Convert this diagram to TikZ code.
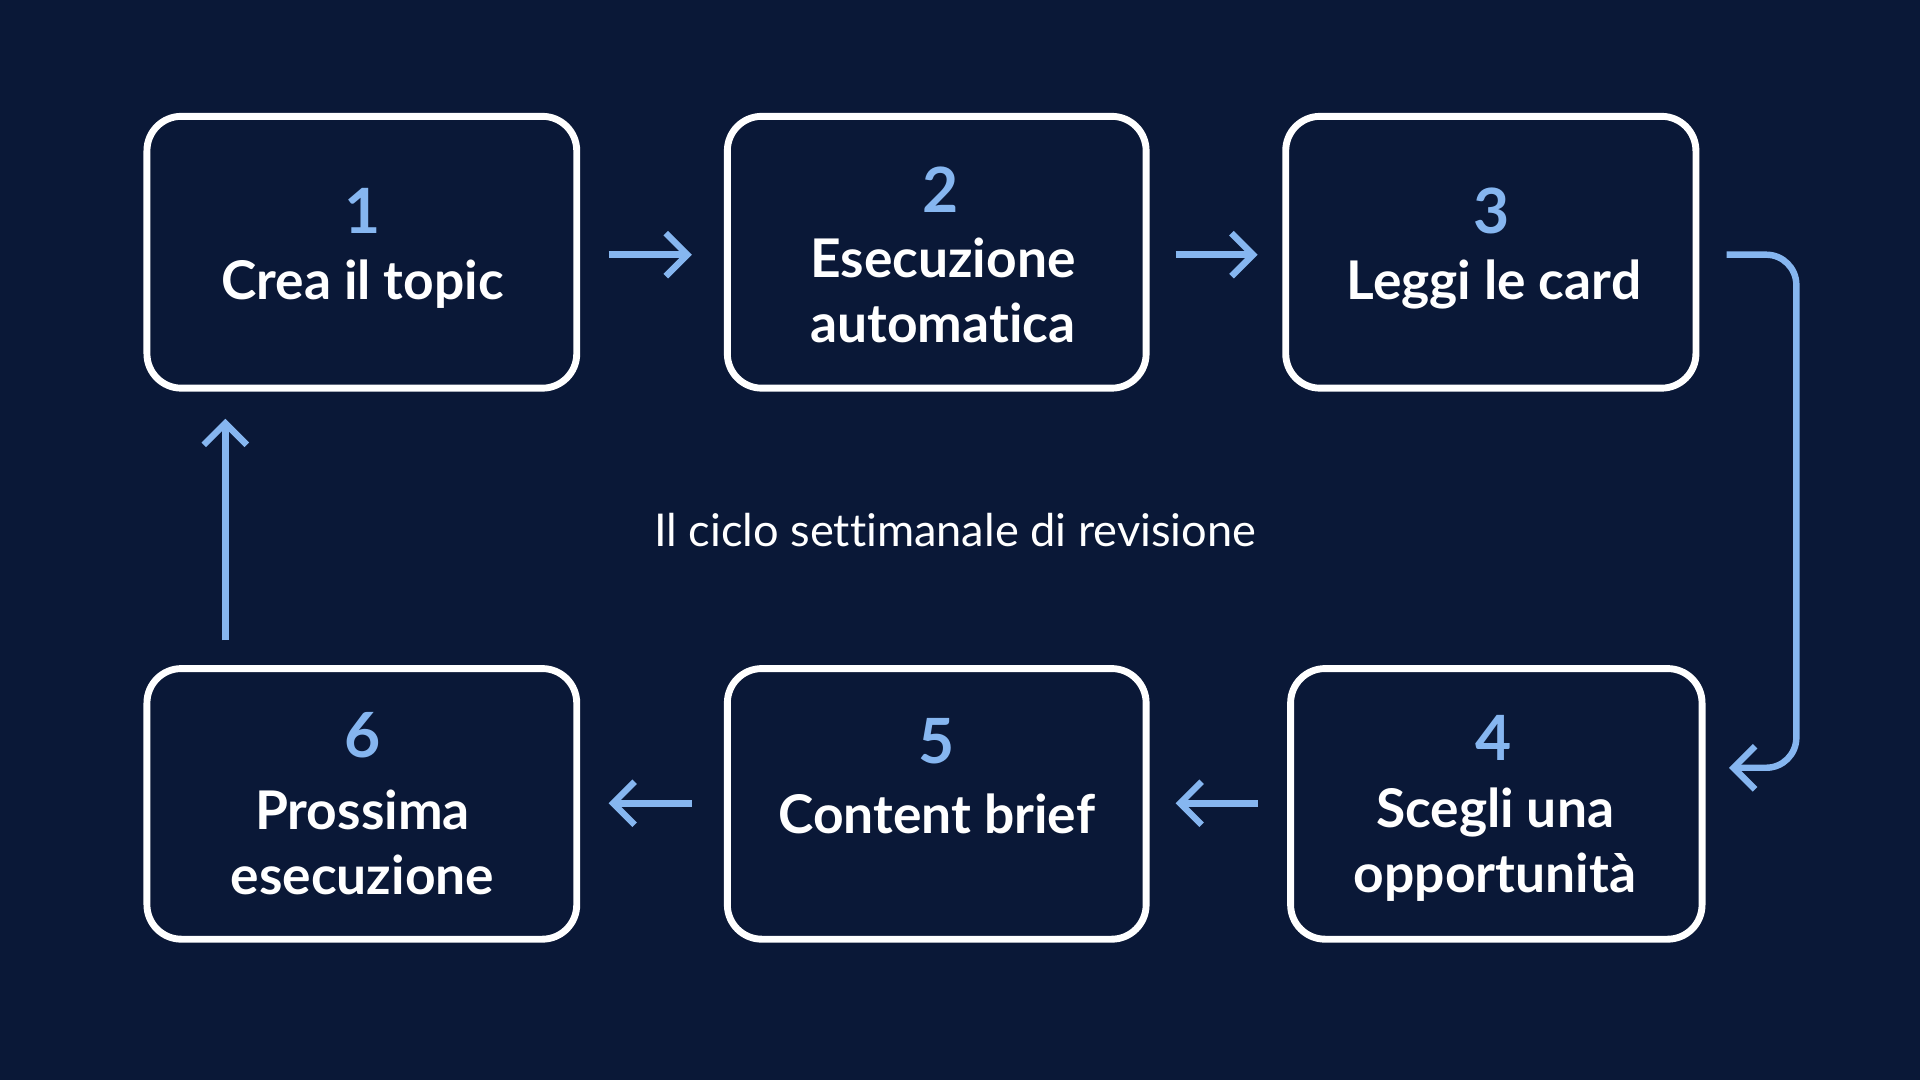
\documentclass[tikz,border=0pt]{standalone}
\usepackage{fontspec}
\setmainfont{Lato}[Ligatures=NoCommon]
\usetikzlibrary{arrows.meta}
\definecolor{bg}{HTML}{0A1837}
\definecolor{acc}{HTML}{86B6F0}
\begin{document}
\begin{tikzpicture}[x=0.02cm,y=-0.02cm,
 box/.style={draw=white,line width=3.2pt,rounded corners=16pt},
 num/.style={text=acc,font=\fontsize{29}{30}\selectfont\bfseries,anchor=center},
 lbl/.style={text=white,font=\fontsize{24.8}{30}\selectfont\bfseries,align=center,anchor=center},
 arr/.style={draw=acc,line width=3pt,-{Straight Barb[length=10pt,width=20pt,line width=3pt]}}]
\fill[bg] (0,0) rectangle (1568,882);
\useasboundingbox (0,0) rectangle (1568,882);
\draw[box] (120,95) rectangle (471,317);
\draw[box] (594,95) rectangle (936,317);
\draw[box] (1050,95) rectangle (1385,317);
\draw[box] (120,546) rectangle (471,767);
\draw[box] (594,546) rectangle (936,767);
\draw[box] (1054,546) rectangle (1390,767);
\node[num] (n1) at (296,172) {1};
\node[lbl] (t1) at (296,232) {Crea il topic};
\node[num] (n2) at (768,155) {2};
\node[lbl] (t2) at (770,237) {Esecuzione\\automatica};
\node[num] (n3) at (1218,172) {3};
\node[lbl] (t3) at (1220,232) {Leggi le card};
\node[num] (n4) at (1220,603) {4};
\node[lbl] (t4) at (1221,690) {Scegli una\\opportunità};
\node[num] (n5) at (765,605) {5};
\node[lbl] (t5) at (765,665) {Content brief};
\node[num] (n6) at (296,600) {6};
\node[lbl] (t6) at (296,688) {Prossima\\esecuzione};
\node[text=white,font=\fontsize{21}{24}\selectfont] (cap) at (780,433) {Il ciclo settimanale di revisione};
\coordinate (a1) at (497,208); \coordinate (b1) at (565,208);
\coordinate (a2) at (960,208); \coordinate (b2) at (1027,208);
\coordinate (a3) at (1410,208); \coordinate (c3) at (1467,208); \coordinate (d3) at (1467,627); \coordinate (b3) at (1412,627);
\coordinate (a4) at (1027,656); \coordinate (b4) at (960,656);
\coordinate (a5) at (565,656); \coordinate (b5) at (497,656);
\coordinate (a6) at (184,523); \coordinate (b6) at (184,342);
\draw[arr] (a1) -- (b1);
\draw[arr] (a2) -- (b2);
\draw[arr,rounded corners=14pt] (a3) -- (c3) -- (d3) -- (b3);
\draw[arr] (a4) -- (b4);
\draw[arr] (a5) -- (b5);
\draw[arr] (a6) -- (b6);
\end{tikzpicture}
\end{document}
